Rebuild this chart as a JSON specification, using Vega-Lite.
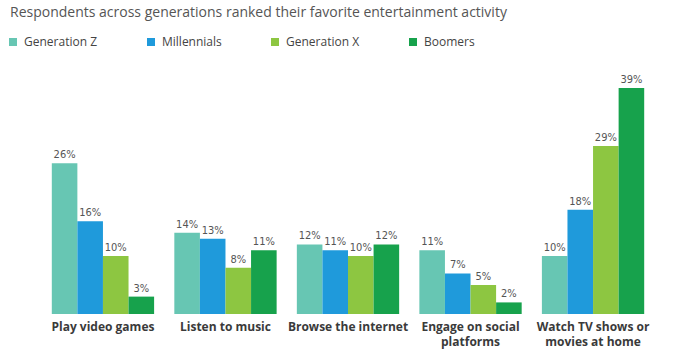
{
  "$schema": "https://vega.github.io/schema/vega-lite/v6.json",
  "autosize": "none",
  "width": 612,
  "height": 226,
  "padding": {"left": 42, "top": 88, "right": 38, "bottom": 46},
  "background": "white",
  "title": {
    "text": "Respondents across generations ranked their favorite entertainment activity",
    "anchor": "start",
    "frame": "group",
    "dx": -32,
    "offset": 16,
    "font": "Open Sans",
    "fontSize": 14,
    "fontWeight": "normal",
    "color": "#555555"
  },
  "config": {"view": {"stroke": null}},
  "data": {
    "values": [
      {"activity": "Play video games", "generation": "Generation Z", "share": 0.26},
      {"activity": "Play video games", "generation": "Millennials", "share": 0.16},
      {"activity": "Play video games", "generation": "Generation X", "share": 0.10},
      {"activity": "Play video games", "generation": "Boomers", "share": 0.03},
      {"activity": "Listen to music", "generation": "Generation Z", "share": 0.14},
      {"activity": "Listen to music", "generation": "Millennials", "share": 0.13},
      {"activity": "Listen to music", "generation": "Generation X", "share": 0.08},
      {"activity": "Listen to music", "generation": "Boomers", "share": 0.11},
      {"activity": "Browse the internet", "generation": "Generation Z", "share": 0.12},
      {"activity": "Browse the internet", "generation": "Millennials", "share": 0.11},
      {"activity": "Browse the internet", "generation": "Generation X", "share": 0.10},
      {"activity": "Browse the internet", "generation": "Boomers", "share": 0.12},
      {"activity": "Engage on social platforms", "generation": "Generation Z", "share": 0.11},
      {"activity": "Engage on social platforms", "generation": "Millennials", "share": 0.07},
      {"activity": "Engage on social platforms", "generation": "Generation X", "share": 0.05},
      {"activity": "Engage on social platforms", "generation": "Boomers", "share": 0.02},
      {"activity": "Watch TV shows or movies at home", "generation": "Generation Z", "share": 0.10},
      {"activity": "Watch TV shows or movies at home", "generation": "Millennials", "share": 0.18},
      {"activity": "Watch TV shows or movies at home", "generation": "Generation X", "share": 0.29},
      {"activity": "Watch TV shows or movies at home", "generation": "Boomers", "share": 0.39}
    ]
  },
  "encoding": {
    "x": {
      "field": "activity",
      "type": "nominal",
      "sort": null,
      "scale": {"paddingInner": 0.165, "paddingOuter": 0.08},
      "axis": {
        "title": null,
        "domain": false,
        "ticks": false,
        "labelAngle": 0,
        "labelPadding": 7,
        "labelFont": "Open Sans",
        "labelFontSize": 12,
        "labelFontWeight": "bold",
        "labelColor": "#3a3a3a",
        "labelLineHeight": 15,
        "labelLimit": 200,
        "labelExpr": "datum.value == 'Engage on social platforms' ? ['Engage on social', 'platforms'] : datum.value == 'Watch TV shows or movies at home' ? ['Watch TV shows or', 'movies at home'] : datum.value"
      }
    },
    "xOffset": {
      "field": "generation",
      "type": "nominal",
      "sort": ["Generation Z", "Millennials", "Generation X", "Boomers"],
      "scale": {"paddingInner": 0, "paddingOuter": 0}
    },
    "y": {
      "field": "share",
      "type": "quantitative",
      "scale": {"domain": [0, 0.39], "nice": false},
      "axis": null
    }
  },
  "layer": [
    {
      "mark": {"type": "bar"},
      "encoding": {
        "color": {
          "field": "generation",
          "type": "nominal",
          "sort": ["Generation Z", "Millennials", "Generation X", "Boomers"],
          "scale": {
            "domain": ["Generation Z", "Millennials", "Generation X", "Boomers"],
            "range": ["#67C6B3", "#1F9ADB", "#8DC641", "#17A24C"]
          },
          "legend": {
            "title": null,
            "orient": "none",
            "legendX": -35,
            "legendY": -52,
            "direction": "horizontal",
            "columns": 4,
            "columnPadding": 47,
            "symbolType": "square",
            "symbolSize": 64,
            "symbolStrokeWidth": 0,
            "labelFont": "Open Sans",
            "labelFontSize": 12,
            "labelColor": "#444444",
            "labelOffset": 5,
            "labelLimit": 200
          }
        }
      }
    },
    {
      "mark": {
        "type": "text",
        "baseline": "bottom",
        "dy": -3,
        "font": "DejaVu Sans Condensed, Open Sans",
        "fontSize": 11,
        "color": "#555555"
      },
      "encoding": {
        "text": {"field": "share", "type": "quantitative", "format": ".0%"}
      }
    }
  ]
}
